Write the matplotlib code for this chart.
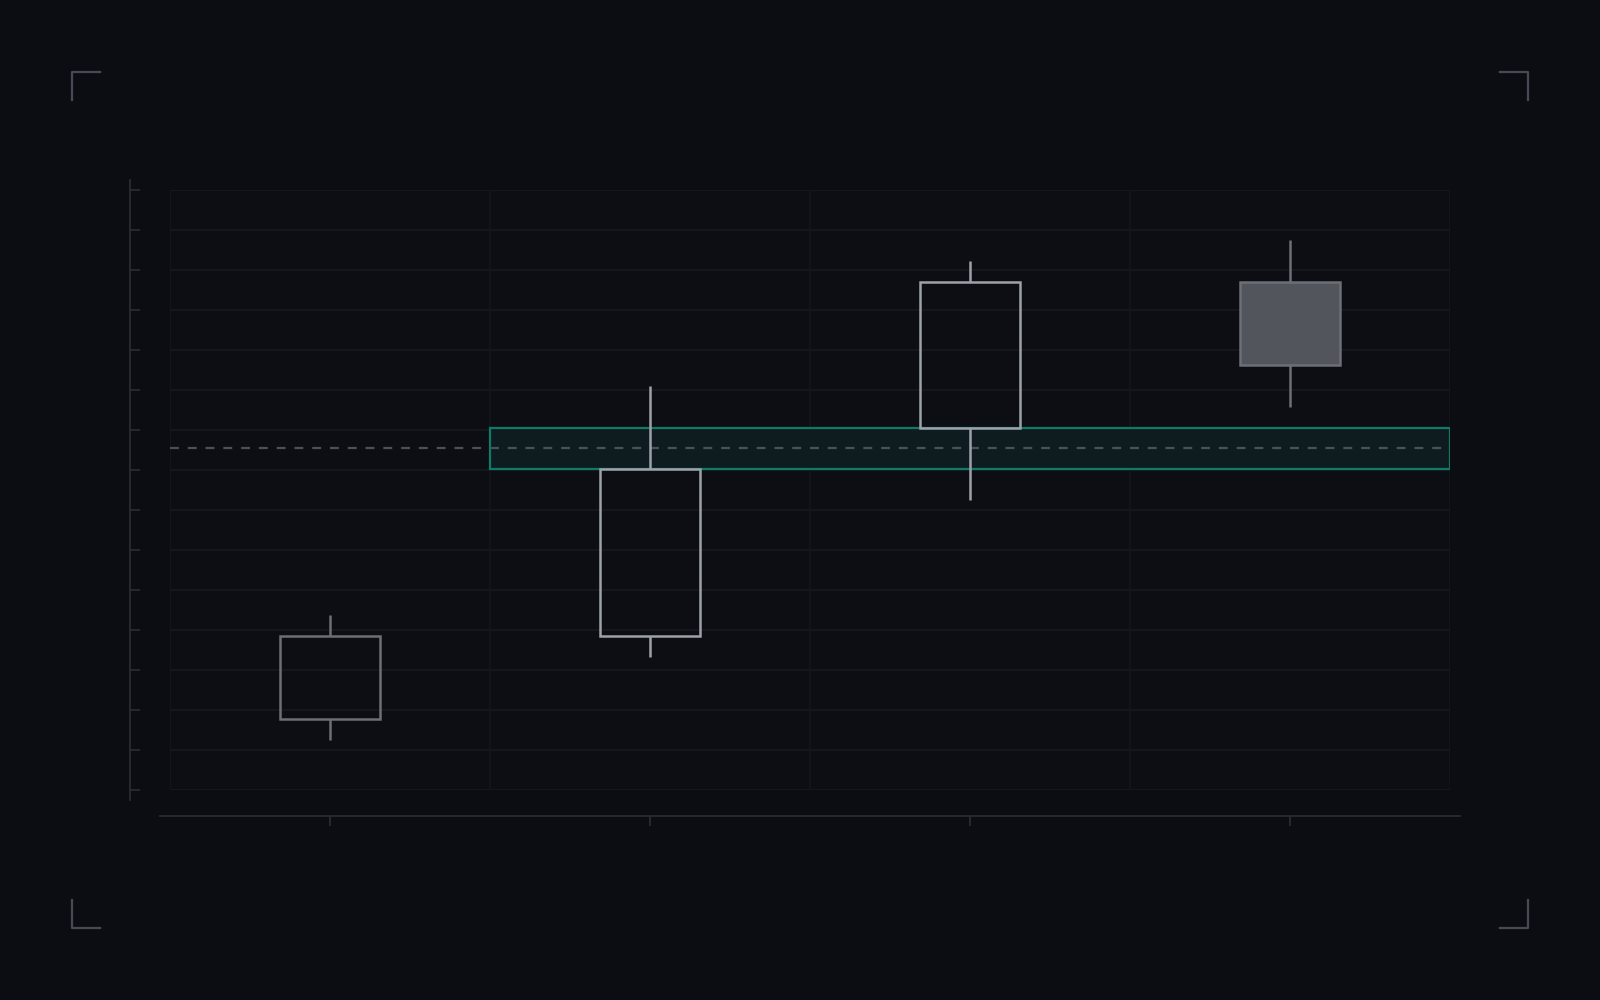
import matplotlib
matplotlib.use("Agg")
from matplotlib import pyplot as plt
from matplotlib.patches import Rectangle
from matplotlib.lines import Line2D
import numpy as np

# candle data (arbitrary price units)
x_pos = [0, 1, 2, 3]
opens = [1, 5, 15, 22]
closes = [5, 13, 22, 18]
highs = [6, 17, 23, 24]
lows = [0, 4, 11.5, 16]
edge_colors = ["#6c6f75", "#9da1a9", "#9da1a9", "#6c6f75"]
face_colors = ["none", "none", "none", "#52555c"]

# highlighted zone between candle 2 body top and candle 3 body bottom
zone_low = 13
zone_high = 15
zone_start = 0.5
mid_level = 14

bg = "#0b0d12"
fig = plt.figure(figsize=(16, 10), dpi=100, facecolor=bg)
ax = fig.add_axes([170/1600, 210/1000, 1280/1600, 600/1000])
ax.set_facecolor("#0c0e13")

ymin, ymax = -2.4, 26.4
ax.set_xlim(-0.5, 3.5)
ax.set_ylim(ymin, ymax)

# grid
ygrid = np.linspace(ymin, ymax, 16)
for y in ygrid:
    ax.axhline(y, color="#16191f", lw=1.2, zorder=0)
for xv in [-0.5, 0.5, 1.5, 2.5, 3.5]:
    ax.axvline(xv, color="#13161b", lw=1.2, zorder=0)

# spines (offsets in points: 40px and 26px at 100 dpi)
for s in ["top", "right"]:
    ax.spines[s].set_visible(False)
ax.spines["left"].set_position(("outward", 28.8))
ax.spines["bottom"].set_position(("outward", 18.7))
ax.spines["left"].set_bounds(ymin - 0.48, ymax + 0.48)
ax.spines["bottom"].set_bounds(-0.5 - 10/320, 3.5 + 10/320)
for s in ["left", "bottom"]:
    ax.spines[s].set_color("#272c33")
    ax.spines[s].set_linewidth(1.3)

ax.set_yticks(ygrid)
ax.set_xticks(x_pos)
ax.set_yticklabels([])
ax.set_xticklabels([])
ax.tick_params(axis="y", direction="in", length=7.2, width=1.3, color="#272c33")
ax.tick_params(axis="x", direction="out", length=7.2, width=1.3, color="#272c33")

# zone + mid line
ax.add_patch(Rectangle((zone_start, zone_low), 3.5 - zone_start, zone_high - zone_low,
                       facecolor="#0e1c20", edgecolor="#0f7a66", lw=1.6, zorder=2))
ax.axhline(mid_level, color="#4c5058", lw=1.6, ls=(0, (4, 4)), zorder=3)

# candles
w = 0.31
for i in range(len(x_pos)):
    lo_b = min(opens[i], closes[i])
    hi_b = max(opens[i], closes[i])
    c = edge_colors[i]
    ax.plot([x_pos[i], x_pos[i]], [lows[i], lo_b], color=c, lw=1.8, zorder=4,
            solid_capstyle="butt")
    ax.plot([x_pos[i], x_pos[i]], [hi_b, highs[i]], color=c, lw=1.8, zorder=4,
            solid_capstyle="butt")
    ax.add_patch(Rectangle((x_pos[i] - w/2, lo_b), w, hi_b - lo_b,
                           facecolor=face_colors[i], edgecolor=c, lw=1.8, zorder=5))

# corner brackets
bc = "#454a55"
arm = 28
for cx, cy, dx, dy in [(72, 72, 1, 1), (1528, 72, -1, 1), (72, 928, 1, -1), (1528, 928, -1, -1)]:
    xs = [(cx + dx*arm)/1600, cx/1600, cx/1600]
    ys = [1 - cy/1000, 1 - cy/1000, 1 - (cy + dy*arm)/1000]
    fig.add_artist(Line2D(xs, ys, color=bc, lw=1.6, transform=fig.transFigure))

fig.savefig("out.png", dpi=100, facecolor=bg)
